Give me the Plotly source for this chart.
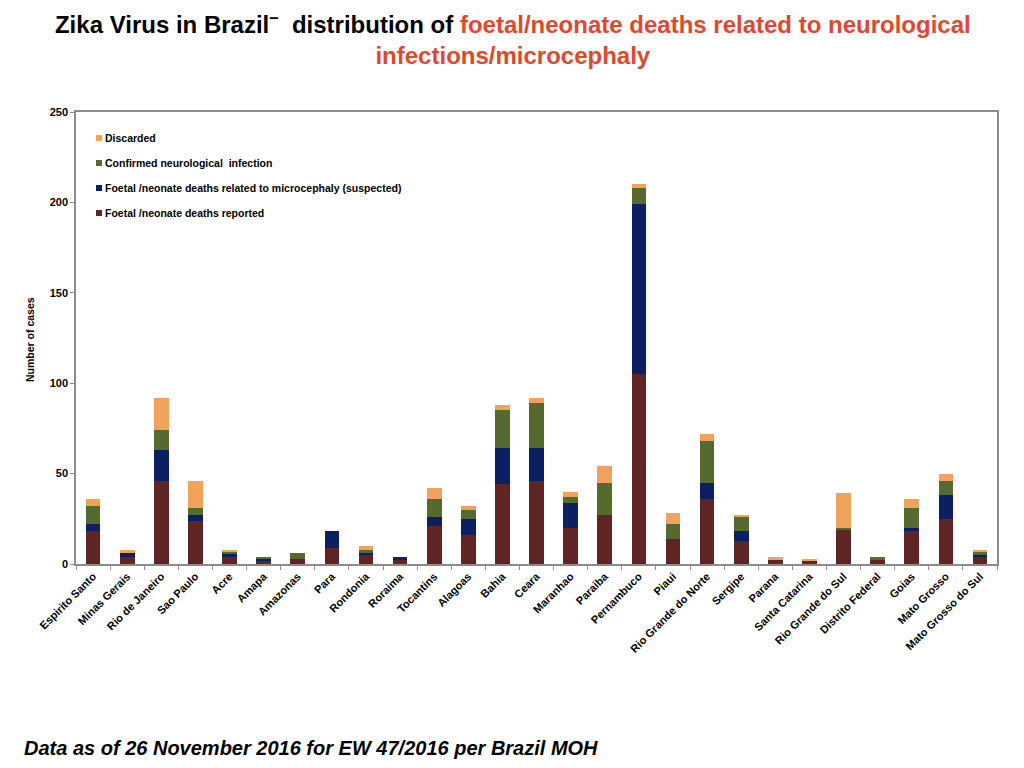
import plotly.graph_objects as go

# States (x axis categories)
states = ["Espirito Santo", "Minas Gerais", "Rio de Janeiro", "Sao Paulo", "Acre", "Amapa",
          "Amazonas", "Para", "Rondonia", "Roraima", "Tocantins", "Alagoas", "Bahia", "Ceara",
          "Maranhao", "Paraiba", "Pernambuco", "Piaui", "Rio Grande do Norte", "Sergipe",
          "Parana", "Santa Catarina", "Rio Grande do Sul", "Distrito Federal", "Goias",
          "Mato Grosso", "Mato Grosso do Sul"]

# stacked series, bottom to top
deaths_reported = [18, 4, 46, 24, 4, 2, 3, 9, 5, 2, 21, 16, 44, 46, 20, 27, 105, 14, 36, 13, 2, 2, 19, 2, 18, 25, 4]
deaths_microcephaly = [4, 2, 17, 3, 2, 1, 0, 9, 1, 2, 5, 9, 20, 18, 14, 0, 94, 0, 9, 5, 0, 0, 0, 0, 2, 13, 1]
confirmed_neuro = [10, 0, 11, 4, 1, 1, 3, 0, 2, 0, 10, 5, 21, 25, 3, 18, 9, 8, 23, 8, 0, 0, 1, 2, 11, 8, 2]
discarded = [4, 2, 18, 15, 1, 0, 0, 0, 2, 0, 6, 2, 3, 3, 3, 9, 2, 6, 4, 1, 2, 1, 19, 0, 5, 4, 1]

series_names = ["Foetal /neonate deaths reported",
                "Foetal /neonate deaths related to microcephaly (suspected)",
                "Confirmed neurological  infection",
                "Discarded"]
series_values = [deaths_reported, deaths_microcephaly, confirmed_neuro, discarded]
series_colors = ["#5E2524", "#0B1F63", "#56692F", "#EFA35D"]

fig = go.Figure()
for name, vals, col in zip(series_names, series_values, series_colors):
    fig.add_trace(go.Bar(
        x=states, y=vals, name=name,
        marker=dict(color=col, line=dict(width=0)),
        showlegend=False,
    ))

bold = dict(family="Liberation Sans, Arial, sans-serif", weight="bold", color="black")

# plot area in figure pixels (page is offset ~8px by body margin)
L, R, T, B = 68, 989, 104, 556
W, H = R - L, B - T


def px_x(p):
    return (p - L) / W


def px_y(p):
    return (B - p) / H


fig.update_layout(
    barmode="stack",
    bargap=0.57,
    width=1024, height=768,
    margin=dict(l=L, r=1024 - R, t=T, b=768 - B),
    paper_bgcolor="white",
    plot_bgcolor="white",
    showlegend=False,
    title=dict(
        text="Zika Virus in Brazil<sup>–</sup>  distribution of "
             "<span style='color:#E0482E'>foetal/neonate deaths related to neurological</span><br>"
             "<span style='color:#E0482E'>infections/microcephaly</span>",
        x=0.493, xanchor="center", y=0.968, yanchor="top",
        font=dict(size=24, **bold),
    ),
    xaxis=dict(
        tickangle=-45,
        tickfont=dict(size=11, **bold),
        showline=True, linecolor="#8c8c8c", linewidth=1.5, mirror=True,
        ticks="outside", tickson="boundaries", ticklen=4, tickcolor="#8c8c8c",
        showgrid=False,
    ),
    yaxis=dict(
        range=[0, 250],
        tickvals=[0, 50, 100, 150, 200, 250],
        tickfont=dict(size=11, **bold),
        showline=True, linecolor="#8c8c8c", linewidth=1.5, mirror=True,
        ticks="outside", ticklen=4, tickcolor="#8c8c8c",
        showgrid=False, zeroline=False,
    ),
)

# legend drawn by hand: top entry is the last series
for i, (name, col) in enumerate(zip(reversed(series_names), reversed(series_colors))):
    yc = 130 + 25 * i
    fig.add_shape(type="rect", xref="paper", yref="paper",
                  x0=px_x(88), x1=px_x(94), y0=px_y(yc + 3), y1=px_y(yc - 3),
                  fillcolor=col, line=dict(width=0))
    fig.add_annotation(text=name, xref="paper", yref="paper",
                       x=px_x(95), y=px_y(yc), xanchor="left", yanchor="middle",
                       showarrow=False, font=dict(size=10.5, **bold))

# y axis title
fig.add_annotation(
    text="Number of cases", xref="paper", yref="paper",
    x=px_x(14), y=px_y(332), textangle=-90, showarrow=False,
    font=dict(size=10.5, **bold),
)

# footnote
fig.add_annotation(
    text="<i>Data as of 26 November 2016 for EW 47/2016 per Brazil MOH</i>",
    xref="paper", yref="paper", x=px_x(14), y=px_y(740),
    xanchor="left", yanchor="middle", showarrow=False,
    font=dict(size=20, **bold),
)

fig.write_html("out.html")
